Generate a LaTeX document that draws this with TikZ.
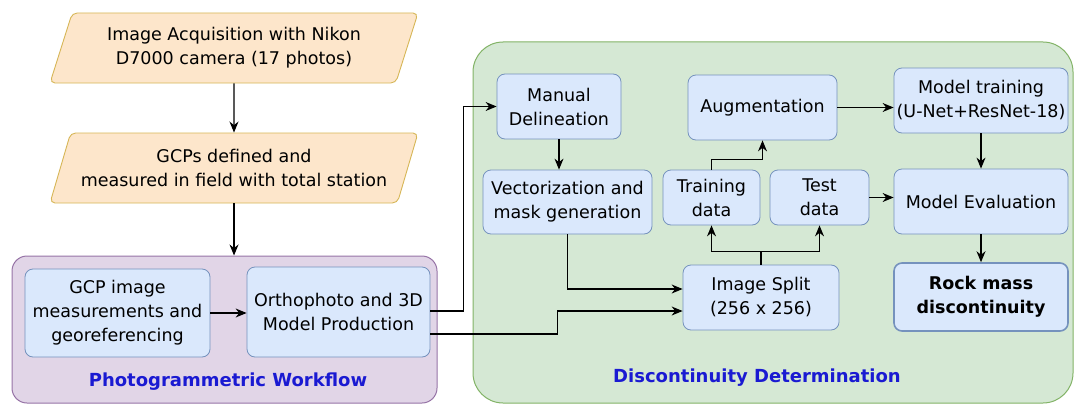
\documentclass[tikz,border=0pt]{standalone}
\usepackage{fontspec}
\setmainfont{DejaVu Sans}
\usetikzlibrary{arrows.meta, positioning, calc, shapes.geometric}
\definecolor{inputfill}{HTML}{FDE6CB}
\definecolor{inputline}{HTML}{D6B656}
\definecolor{procfill}{HTML}{DAE8FC}
\definecolor{procline}{HTML}{7592BD}
\definecolor{pwfill}{HTML}{E1D5E7}
\definecolor{pwline}{HTML}{9673A6}
\definecolor{ddfill}{HTML}{D5E8D4}
\definecolor{ddline}{HTML}{82B366}
\definecolor{grouplabel}{HTML}{1A1AD2}

\begin{document}
\begin{tikzpicture}[x=1pt, y=-1pt, every node/.style={font=\fontsize{17.5}{24}\selectfont},
  inbox/.style={trapezium, trapezium left angle=65, trapezium right angle=115, trapezium stretches body=true, draw=inputline, fill=inputfill, line width=0.9pt, rounded corners=5pt, align=center, minimum width=368pt, minimum height=70pt},
  proc/.style={rectangle, rounded corners=8pt, draw=procline, fill=procfill, line width=0.8pt, align=center, inner sep=2pt},
  pwbox/.style={rectangle, rounded corners=15pt, draw=pwline, fill=pwfill, line width=1pt},
  ddbox/.style={rectangle, rounded corners=30pt, draw=ddline, fill=ddfill, line width=1pt},
  grouptitle/.style={text=grouplabel, font=\fontsize{18}{22}\selectfont\bfseries},
  flow/.style={-{Stealth[length=11pt,width=9pt]}, line width=1.1pt}]
\useasboundingbox (0,0) rectangle (1075,404);

\node[pwbox, minimum width=425pt, minimum height=147pt] (pw) at (224.5,329.5) {};
\node[ddbox, minimum width=600pt, minimum height=361pt] (dd) at (773,222.5) {};
\node[grouptitle] (pwtitle) at (228,382) {Photogrammetric Workflow};
\node[grouptitle] (ddtitle) at (757,378) {Discontinuity Determination};

\node[inbox] (acq) at (234,48) {Image Acquisition with Nikon\\D7000 camera (17 photos)};
\node[inbox] (gcpdef) at (234,168) {GCPs defined and\\measured in field with total station};

\node[proc, minimum width=185pt, minimum height=88pt] (gcpimg) at (117.5,313) {GCP image\\measurements and\\georeferencing};
\node[proc, minimum width=183pt, minimum height=90pt] (ortho) at (338.5,312) {Orthophoto and 3D\\Model Production};

\node[proc, minimum width=124pt, minimum height=65pt] (manual) at (559,106.5) {Manual\\Delineation};
\node[proc, minimum width=169pt, minimum height=64pt] (vect) at (567.5,202) {Vectorization and\\mask generation};
\node[proc, minimum width=97pt, minimum height=55pt] (train) at (711.5,197.5) {Training\\data};
\node[proc, minimum width=99pt, minimum height=55pt] (test) at (819.5,197.5) {Test\\data};
\node[proc, minimum width=149pt, minimum height=65pt] (augm) at (762.5,107.5) {Augmentation};
\node[proc, minimum width=156pt, minimum height=65pt] (split) at (761,297.5) {Image Split\\(256 x 256)};
\node[proc, minimum width=174pt, minimum height=65pt] (mtrain) at (981,100.5) {Model training\\(U-Net+ResNet-18)};
\node[proc, minimum width=174pt, minimum height=65pt] (eval) at (981,201.5) {Model Evaluation};
\node[proc, minimum width=174pt, minimum height=68pt, line width=1.6pt, font=\fontsize{17.5}{24}\selectfont\bfseries] (rock) at (981,297) {Rock mass\\discontinuity};

\coordinate (fork) at ($(split.north)+(0,-13)$);

\draw[flow] (acq) -- (gcpdef);
\draw[flow] (gcpdef.south) -- (gcpdef.south |- pw.north);
\draw[flow] (gcpimg.east) -- (gcpimg.east -| ortho.west);
\draw[flow] ([yshift=1pt]ortho.east) -- ++(33,0) |- (manual.west);
\draw[flow] ([yshift=-22pt]ortho.east) -- ++(127,0) |- ([yshift=-13.5pt]split.west);
\draw[flow] (manual) -- (manual |- vect.north);
\draw[flow] (vect.south) |- ([yshift=8.5pt]split.west);
\draw[line width=1.1pt] (split.north) -- (fork);
\draw[flow] (fork) -| (train.south);
\draw[flow] (fork) -| (test.south);
\draw[flow] (train.north) -- ++(0,-10) -| (augm.south);
\draw[flow] (augm.east) -- (augm.east -| mtrain.west);
\draw[flow] (test.east) -- (test.east -| eval.west);
\draw[flow] (mtrain) -- (eval);
\draw[flow] (eval) -- (rock);
\end{tikzpicture}
\end{document}
